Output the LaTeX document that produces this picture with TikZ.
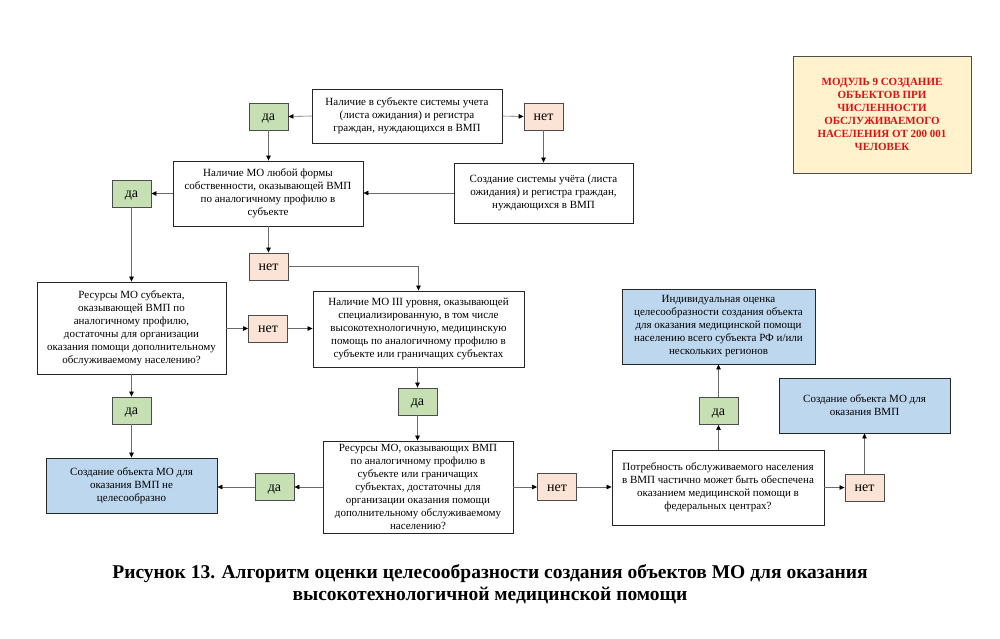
\documentclass[tikz,border=0pt]{standalone}
\usepackage{fontspec}
\setmainfont{Liberation Serif}
\usetikzlibrary{arrows.meta}
\definecolor{dagreen}{HTML}{C6E0B4}
\definecolor{netpeach}{HTML}{FBE4D5}
\definecolor{resblue}{HTML}{BDD7EE}
\definecolor{modyellow}{HTML}{FFF2CC}
\definecolor{modred}{HTML}{E01010}
\definecolor{linegray}{HTML}{6A6A6A}
\begin{document}
\begin{tikzpicture}[x=1pt,y=-1pt,
  box/.style={draw=black!85,line width=0.9pt,fill=white,align=center,inner sep=2pt,
    font=\fontsize{11}{13}\selectfont},
  yes/.style={draw=black!70,line width=0.9pt,fill=dagreen,minimum width=39pt,minimum height=27pt,
    inner sep=0pt,text height=8pt,text depth=0pt,font=\fontsize{14}{16}\selectfont},
  no/.style={yes,fill=netpeach},
  res/.style={box,fill=resblue},
  conn/.style={draw=linegray,line width=0.6pt,-{Triangle[length=5pt,width=4.5pt,fill=black,color=black]}}]
\useasboundingbox (0,0) rectangle (1000,638);
\fill[white] (0,0) rectangle (1000,638);

% module box
\node[draw=black!70,line width=0.9pt,fill=modyellow,minimum width=178pt,minimum height=117pt,
  align=center,text=modred,font=\fontsize{11}{13}\selectfont\bfseries] (mod) at (882,114.5)
  {МОДУЛЬ 9 СОЗДАНИЕ\\ОБЪЕКТОВ ПРИ\\ЧИСЛЕННОСТИ\\ОБСЛУЖИВАЕМОГО\\НАСЕЛЕНИЯ ОТ 200 001\\ЧЕЛОВЕК};

% main boxes
\node[box,minimum width=190pt,minimum height=54pt] (q1) at (407,116)
  {Наличие в субъекте системы учета\\(листа ожидания) и регистра\\граждан, нуждающихся в ВМП};
\node[box,minimum width=190pt,minimum height=65pt] (q2) at (268,193.5)
  {Наличие МО любой формы\\собственности, оказывающей ВМП\\по аналогичному профилю в\\субъекте};
\node[box,minimum width=179pt,minimum height=60pt] (cs) at (543.5,193)
  {Создание системы учёта (листа\\ожидания) и регистра граждан,\\нуждающихся в ВМП};
\node[box,minimum width=189pt,minimum height=92pt] (q3) at (131.5,328)
  {Ресурсы МО субъекта,\\оказывающей ВМП по\\аналогичному профилю,\\достаточны для организации\\оказания помощи дополнительному\\обслуживаемому населению?};
\node[box,minimum width=211pt,minimum height=76pt] (q4) at (418.5,329)
  {Наличие МО III уровня, оказывающей\\специализированную, в том числе\\высокотехнологичную, медицинскую\\помощь по аналогичному профилю в\\субъекте или граничащих субъектах};
\node[res,minimum width=171pt,minimum height=55pt] (r1) at (131.5,485.5)
  {Создание объекта МО для\\оказания ВМП не\\целесообразно};
\node[box,minimum width=190pt,minimum height=92pt] (q5) at (418,487)
  {Ресурсы МО, оказывающих ВМП\\по аналогичному профилю в\\субъекте или граничащих\\субъектах, достаточны для\\организации оказания помощи\\дополнительному обслуживаемому\\населению?};
\node[box,minimum width=212pt,minimum height=75pt] (q6) at (718,487.5)
  {Потребность обслуживаемого населения\\в ВМП частично может быть обеспечена\\оказанием медицинской помощи в\\федеральных центрах?};
\node[res,minimum width=193pt,minimum height=75pt] (r2) at (718.5,326.5)
  {Индивидуальная оценка\\целесообразности создания объекта\\для оказания медицинской помощи\\населению всего субъекта РФ и/или\\нескольких регионов};
\node[res,minimum width=171pt,minimum height=55pt] (r3) at (864.5,405.5)
  {Создание объекта МО для\\оказания ВМП};

% yes/no
\node[yes] (daA) at (268.5,116.5) {да};
\node[no]  (netA) at (543.5,116.5) {нет};
\node[yes] (daB) at (131.5,193.5) {да};
\node[no]  (netB) at (268.5,266.5) {нет};
\node[no]  (netC) at (268,328.5) {нет};
\node[yes] (daC) at (131.5,410.5) {да};
\node[yes] (daE) at (417.5,401.5) {да};
\node[yes] (daD) at (274.5,487) {да};
\node[no]  (netD) at (557,487) {нет};
\node[yes] (daF) at (718.5,411) {да};
\node[no]  (netE) at (864.5,487.5) {нет};

% connectors
\draw[conn] (q1.west) -- (daA.east);
\draw[conn] (q1.east) -- (netA.west);
\draw[conn] (daA.south) -- (daA.south |- q2.north);
\draw[conn] (netA.south) -- (netA.south |- cs.north);
\draw[conn] (cs.west) -- (cs.west -| q2.east);
\draw[conn] (q2.west) -- (q2.west -| daB.east);
\draw[conn] (daB.south) -- (daB.south |- q3.north);
\draw[conn] (q2.south -| netB.north) -- (netB.north);
\draw[conn] (netB.east) -| (q4.north);
\draw[conn] (q3.east |- netC.west) -- (netC.west);
\draw[conn] (netC.east) -- (netC.east -| q4.west);
\draw[conn] (q4.south -| daE.north) -- (daE.north);
\draw[conn] (daE.south) -- (daE.south |- q5.north);
\draw[conn] (q3.south) -- (daC.north);
\draw[conn] (daC.south) -- (daC.south |- r1.north);
\draw[conn] (q5.west |- daD.east) -- (daD.east);
\draw[conn] (daD.west) -- (daD.west -| r1.east);
\draw[conn] (q5.east |- netD.west) -- (netD.west);
\draw[conn] (netD.east) -- (netD.east -| q6.west);
\draw[conn] (q6.north -| daF.south) -- (daF.south);
\draw[conn] (daF.north) -- (daF.north |- r2.south);
\draw[conn] (q6.east |- netE.west) -- (netE.west);
\draw[conn] (netE.north) -- (netE.north |- r3.south);

% caption
\node[align=center,font=\fontsize{19.5}{22}\selectfont\bfseries] (cap) at (490,584)
  {Рисунок 13. Алгоритм оценки целесообразности создания объектов МО для оказания\\высокотехнологичной медицинской помощи};
\end{tikzpicture}
\end{document}
